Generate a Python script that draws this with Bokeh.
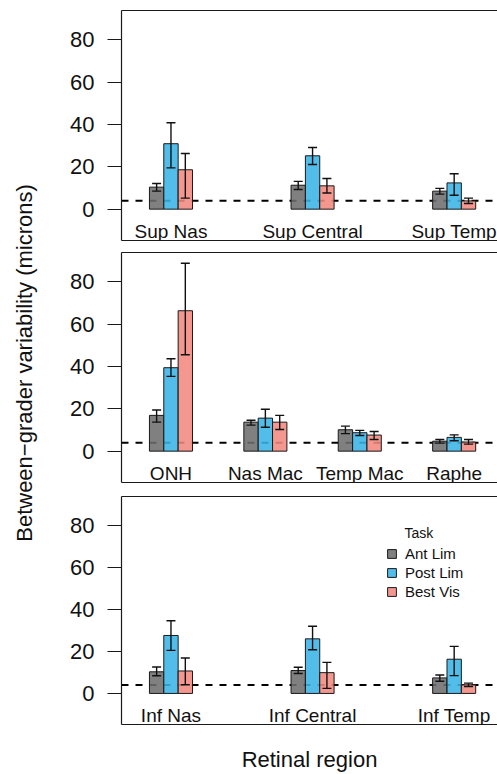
import numpy as np
from bokeh.plotting import figure
from bokeh.models import (ColumnDataSource, Range1d, FixedTicker, LinearAxis, Span,
                          Whisker, TeeHead, Legend, LegendItem, Label)
from bokeh.layouts import column, row
from bokeh.embed import file_html
from bokeh.resources import INLINE
from bokeh.core.properties import value

# ---------------- data ----------------
tasks = ["Ant Lim", "Post Lim", "Best Vis"]
task_colors = ["#6e6e6e", "#3ab4e6", "#f28a80"]

sup_regions = ["Sup Nas", "Sup Central", "Sup Temp"]
sup_ant = [10.4, 11.3, 8.5]
sup_ant_lo = [8.5, 9.3, 7.1]
sup_ant_hi = [12.1, 13.1, 9.8]
sup_post = [30.9, 25.2, 12.4]
sup_post_lo = [19.5, 21.1, 6.6]
sup_post_hi = [40.8, 29.1, 16.7]
sup_best = [18.6, 11.0, 3.9]
sup_best_lo = [5.2, 7.6, 2.7]
sup_best_hi = [26.3, 14.5, 5.2]

mid_regions = ["ONH", "Nas Mac", "Temp Mac", "Raphe"]
mid_ant = [16.9, 13.7, 10.1, 4.7]
mid_ant_lo = [13.7, 12.3, 8.3, 3.8]
mid_ant_hi = [19.4, 14.6, 11.8, 5.5]
mid_post = [39.4, 15.6, 8.7, 6.5]
mid_post_lo = [35.3, 11.3, 7.4, 4.9]
mid_post_hi = [43.6, 19.8, 9.8, 7.7]
mid_best = [66.3, 13.7, 7.6, 4.3]
mid_best_lo = [45.5, 10.2, 5.5, 3.3]
mid_best_hi = [88.7, 16.9, 9.3, 5.5]

inf_regions = ["Inf Nas", "Inf Central", "Inf Temp"]
inf_ant = [10.3, 10.9, 7.4]
inf_ant_lo = [8.4, 9.5, 5.8]
inf_ant_hi = [12.6, 12.5, 8.8]
inf_post = [27.6, 26.0, 16.3]
inf_post_lo = [20.5, 20.8, 8.5]
inf_post_hi = [34.6, 32.0, 22.4]
inf_best = [10.7, 9.9, 4.1]
inf_best_lo = [4.1, 2.4, 3.3]
inf_best_hi = [16.9, 14.8, 4.9]

y_ticks = [0, 20, 40, 60, 80]
reference_level = 4

y_title = "Between\u2212grader variability (microns)"
x_title = "Retinal region"
legend_title = "Task"

# ---------------- styling ----------------
FONT = "Liberation Sans"
BAR_W = 0.152
X0, X1 = -0.524, 3.459
Y0, Y1 = -14.8, 93.8
YW = 45            # width of the strip holding the y title
W = 497 - YW
BORDER = "#1a1a1a"
TXT = "#111111"


def make_panel(regions, means, los, his, height, btop, bbot, xlabel=None, legend=False):
    p = figure(width=W, height=height, x_range=Range1d(X0, X1), y_range=Range1d(Y0, Y1),
               output_backend="svg", toolbar_location=None,
               x_axis_location=None, y_axis_location=None,
               min_border_left=121 - YW, min_border_right=0,
               min_border_top=btop, min_border_bottom=bbot)
    p.outline_line_color = None
    p.grid.visible = False
    p.xgrid.grid_line_color = None
    p.ygrid.grid_line_color = None

    left = LinearAxis(ticker=FixedTicker(ticks=y_ticks, minor_ticks=[]),
                      major_tick_in=0, major_tick_out=14, minor_tick_out=0, minor_tick_in=0,
                      major_label_standoff=13,
                      major_label_text_font=FONT, major_label_text_font_size="22px",
                      major_label_text_color=TXT,
                      axis_line_color=BORDER, axis_line_width=1.2,
                      major_tick_line_color=BORDER, major_tick_line_width=1.2)
    p.add_layout(left, "left")

    for loc in ("below", "above"):
        ax = LinearAxis(ticker=FixedTicker(ticks=[], minor_ticks=[]),
                        major_tick_out=0, major_tick_in=0, minor_tick_out=0, minor_tick_in=0,
                        major_label_standoff=0, axis_label_standoff=0,
                        major_label_text_font_size="0px",
                        axis_line_color=BORDER, axis_line_width=1.2)
        if loc == "below" and xlabel:
            ax.axis_label = xlabel
            ax.axis_label_text_font = FONT
            ax.axis_label_text_font_size = "22px"
            ax.axis_label_text_font_style = "normal"
            ax.axis_label_text_color = TXT
            ax.axis_label_standoff = 22
        p.add_layout(ax, loc)

    p.add_layout(Span(location=reference_level, dimension="width", line_color="black",
                      line_width=2, line_dash="7 7", level="underlay"))

    centers = np.linspace(0, 3, len(regions))
    renderers = []
    for k, (name, color) in enumerate(zip(tasks, task_colors)):
        xs = centers + (k - 1) * BAR_W
        src = ColumnDataSource(dict(x=xs, top=means[k], lo=los[k], hi=his[k]))
        r = p.vbar(x="x", top="top", bottom=0, width=BAR_W, source=src,
                   fill_color=color, fill_alpha=0.88, line_color=BORDER, line_width=1)
        renderers.append(r)
        p.add_layout(Whisker(source=src, base="x", upper="hi", lower="lo",
                             dimension="height", line_color=TXT, line_width=1.4,
                             level="annotation",
                             upper_head=TeeHead(size=9, line_color=TXT, line_width=1.4),
                             lower_head=TeeHead(size=9, line_color=TXT, line_width=1.4)))

    p.text(x=centers, y=[-10.4] * len(regions), text=regions,
           text_align="center", text_baseline="alphabetic",
           text_font=value(FONT), text_font_size="19px", text_color=TXT)

    if legend:
        items = [LegendItem(label=t, renderers=[r]) for t, r in zip(tasks, renderers)]
        lg = Legend(items=items, location=(265, 123), orientation="vertical",
                    glyph_width=11, glyph_height=11, label_height=19, label_standoff=8,
                    spacing=0, padding=0, margin=0,
                    label_text_font=FONT, label_text_font_size="15px",
                    label_text_color=TXT,
                    background_fill_alpha=0, border_line_color=None)
        p.add_layout(lg)
        p.add_layout(Label(x=2.474, y=76.4, text=legend_title, text_align="left",
                           text_baseline="middle", text_font=FONT,
                           text_font_size="14px", text_color=TXT))
    return p


p1 = make_panel(sup_regions, [sup_ant, sup_post, sup_best],
                [sup_ant_lo, sup_post_lo, sup_best_lo], [sup_ant_hi, sup_post_hi, sup_best_hi],
                height=246, btop=10, bbot=6)
p2 = make_panel(mid_regions, [mid_ant, mid_post, mid_best],
                [mid_ant_lo, mid_post_lo, mid_best_lo], [mid_ant_hi, mid_post_hi, mid_best_hi],
                height=243, btop=6, bbot=7)
p3 = make_panel(inf_regions, [inf_ant, inf_post, inf_best],
                [inf_ant_lo, inf_post_lo, inf_best_lo], [inf_ant_hi, inf_post_hi, inf_best_hi],
                height=285, btop=7, bbot=48, xlabel=x_title, legend=True)

# strip holding the shared y-axis title
ystrip = figure(width=YW, height=774, x_range=Range1d(0, 1), y_range=Range1d(0, 1),
                output_backend="svg", toolbar_location=None,
                x_axis_location=None, y_axis_location=None,
                min_border_left=0, min_border_right=0, min_border_top=0, min_border_bottom=0)
ystrip.outline_line_color = None
ystrip.grid.visible = False
ystrip.add_layout(Label(x=0.533, y=0.5317, text=y_title, angle=np.pi / 2,
                        text_align="center", text_baseline="middle",
                        text_font=FONT, text_font_size="22px", text_color=TXT))

layout = row(ystrip, column(p1, p2, p3, spacing=0), spacing=0)
open("out.html", "w").write(file_html(layout, INLINE))
